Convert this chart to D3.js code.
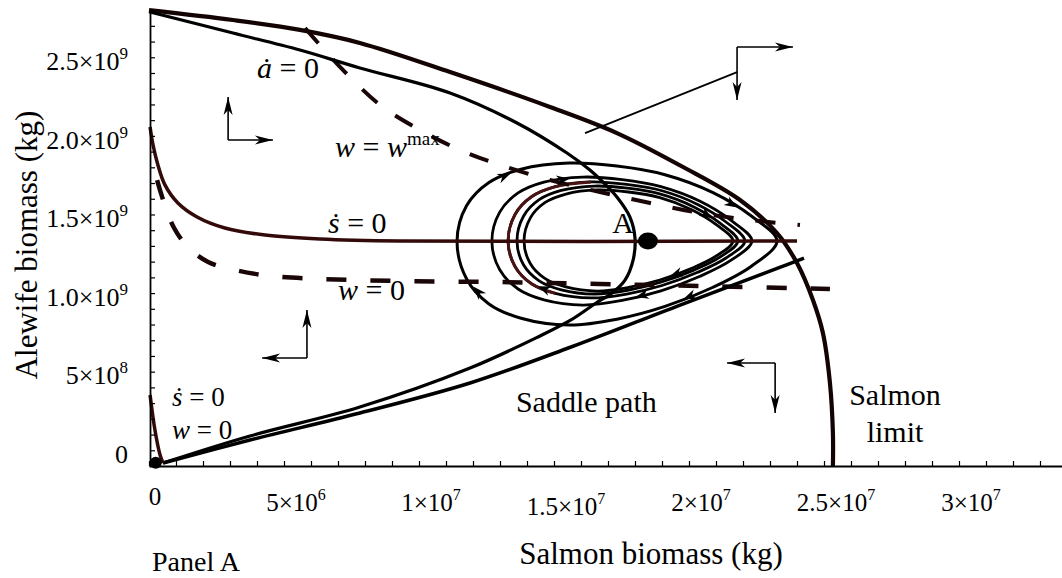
<!DOCTYPE html>
<html>
<head>
<meta charset="utf-8">
<script src="https://cdn.jsdelivr.net/npm/d3@7"></script>
<style>
  body { margin: 0; background: #fff; }
  svg { display: block; }
</style>
</head>
<body>
<div id="vis"></div>
<script>
// salmon values in 1e6 kg, alewife values in 1e9 kg
var salmonTicks = [0, 5e6, 1e7, 1.5e7, 2e7, 2.5e7, 3e7];
var salmonTickLabels = [['0', ''], ['5×10', '6'], ['1×10', '7'], ['1.5×10', '7'], ['2×10', '7'], ['2.5×10', '7'], ['3×10', '7']];
var alewifeTicks = [0, 5e8, 1e9, 1.5e9, 2e9, 2.5e9];
var alewifeTickLabels = [['0', ''], ['5×10', '8'], ['1.0×10', '9'], ['1.5×10', '9'], ['2.0×10', '9'], ['2.5×10', '9']];

var salmonLimit = [[0, 2.90], [3.11, 2.837], [5.59, 2.774], [7.81, 2.691], [11.15, 2.506], [14.85, 2.284],
    [17.33, 2.118], [19.78, 1.902], [21.89, 1.692], [23.26, 1.482], [24.0, 1.291], [24.59, 1.056],
    [24.96, 0.846], [25.22, 0.528], [25.33, 0.210], [25.33, 0]];

var aDotZero = [[0, 2.89], [3.11, 2.754], [5.59, 2.646], [7.81, 2.532], [11.15, 2.373], [13.63, 2.182],
    [15.48, 1.991], [16.33, 1.883], [16.81, 1.807], [17.33, 1.711], [17.81, 1.584], [18.0, 1.450],
    [17.93, 1.310], [17.63, 1.183], [17.15, 1.101], [16.56, 1.037], [15.63, 0.929], [14.48, 0.827],
    [11.89, 0.623], [7.81, 0.375], [3.74, 0.191], [0.52, 0.019]];

var saddleLower = [[0.52, 0.019], [3.74, 0.165], [7.81, 0.337], [11.89, 0.528], [15.63, 0.757],
    [19.67, 1.024], [23.41, 1.266], [24.26, 1.323]];

var sDotZero = [[0.04, 2.157], [0.15, 2.042], [0.33, 1.915], [0.59, 1.788], [1.07, 1.673], [1.78, 1.584],
    [2.81, 1.514], [4.30, 1.469], [6.33, 1.444], [9.30, 1.431], [24.0, 1.431]];
var sDotZeroOrigin = [[0.04, 0.452], [0.22, 0.229], [0.41, 0.070], [0.52, 0.019]];

var wMax = [[5.78, 2.786], [6.33, 2.678], [7.26, 2.506], [8.56, 2.296], [10.04, 2.137], [11.52, 2.010],
    [13.0, 1.915], [14.85, 1.819], [16.70, 1.743], [18.56, 1.673], [20.41, 1.609], [22.26, 1.565], [24.11, 1.533]];

var wZero = [[0.30, 1.819], [0.56, 1.673], [0.93, 1.514], [1.44, 1.393], [2.19, 1.298], [3.19, 1.247],
    [4.48, 1.209], [6.33, 1.190], [9.30, 1.177], [13.0, 1.170], [16.70, 1.158], [20.41, 1.145], [25.22, 1.126]];

var orbits = [
    [[11.41, 1.431], [11.76, 1.655], [12.59, 1.803], [13.78, 1.888], [15.56, 1.927], [17.33, 1.908], [19.11, 1.853],
     [20.89, 1.739], [22.31, 1.590], [23.26, 1.431], [22.31, 1.271], [20.89, 1.137], [19.11, 1.015], [17.33, 0.934],
     [15.56, 0.897], [13.78, 0.940], [12.59, 1.031], [11.76, 1.191]],
    [[12.70, 1.431], [12.99, 1.615], [13.67, 1.737], [14.63, 1.806], [16.07, 1.838], [17.52, 1.822], [18.96, 1.777],
     [20.41, 1.684], [21.56, 1.562], [22.33, 1.431], [21.56, 1.309], [20.41, 1.207], [18.96, 1.114], [17.52, 1.053],
     [16.07, 1.024], [14.63, 1.057], [13.67, 1.126], [12.99, 1.248]],
    [[13.30, 1.431], [13.56, 1.601], [14.17, 1.713], [15.05, 1.777], [16.37, 1.807], [17.69, 1.791], [19.00, 1.751],
     [20.32, 1.664], [21.37, 1.552], [22.07, 1.431], [21.37, 1.323], [20.32, 1.232], [19.00, 1.148], [17.69, 1.094],
     [16.37, 1.069], [15.05, 1.098], [14.17, 1.159], [13.56, 1.268]],
    [[13.63, 1.431], [13.87, 1.589], [14.45, 1.694], [15.27, 1.753], [16.50, 1.781], [17.72, 1.767], [18.95, 1.729],
     [20.18, 1.648], [21.16, 1.543], [21.81, 1.431], [21.16, 1.330], [20.18, 1.246], [18.95, 1.169], [17.72, 1.118],
     [16.50, 1.094], [15.27, 1.121], [14.45, 1.178], [13.87, 1.280]],
    [[13.89, 1.431], [14.12, 1.577], [14.66, 1.675], [15.44, 1.730], [16.60, 1.756], [17.76, 1.743], [18.92, 1.707],
     [20.08, 1.632], [21.01, 1.535], [21.63, 1.431], [21.01, 1.336], [20.08, 1.256], [18.92, 1.183], [17.76, 1.136],
     [16.60, 1.113], [15.44, 1.139], [14.66, 1.193], [14.12, 1.288]]
];
// arrowheads on orbits: [orbit, segment]
var orbitArrows = [[0, 2], [0, 7], [0, 11], [0, 16], [1, 3], [1, 12], [2, 15], [3, 7], [4, 11]];

var equilibrium = [18.48, 1.431];
var origin = [0.25, 0.02];

// phase direction glyphs: corner and arrow tips
var phaseArrows = [
    { corner: [2.93, 2.074], tips: [[2.93, 2.347], [4.59, 2.074]] },
    { corner: [21.78, 2.665], tips: [[21.78, 2.328], [23.85, 2.665]] },
    { corner: [5.85, 0.687], tips: [[5.85, 0.992], [4.19, 0.687]] },
    { corner: [23.19, 0.655], tips: [[21.41, 0.655], [23.19, 0.337]] }
];
var pointer = [[16.15, 2.118], [21.78, 2.506]];

var width = 1062, height = 578;
var S = 1e6, A = 1e9;

var x = d3.scaleLinear().domain([0, 2.5e7]).range([149, 824]);
var y = d3.scaleLinear().domain([0, 2.5e9]).range([466, 73]);

var svg = d3.select('#vis').append('svg')
    .attr('width', width)
    .attr('height', height)
    .attr('font-family', '"Liberation Serif", "Times New Roman", "DejaVu Serif", serif');

svg.append('rect').attr('width', width).attr('height', height).attr('fill', '#fff');

var line = d3.line()
    .x(d => x(d[0] * S))
    .y(d => y(d[1] * A))
    .curve(d3.curveCatmullRom.alpha(0.5));
var loop = d3.line()
    .x(d => x(d[0] * S))
    .y(d => y(d[1] * A))
    .curve(d3.curveCatmullRomClosed.alpha(0.5));

var plot = svg.append('g');

// orbits round A
orbits.forEach((o, i) => {
    plot.append('path')
        .attr('d', loop(o))
        .attr('fill', 'none')
        .attr('stroke', '#000')
        .attr('stroke-width', i == 0 ? 3 : 2.8);
});
var o3 = orbits[2];
plot.append('path')
    .attr('d', line([o3[15], o3[16], o3[17], o3[0], o3[1], o3[2], o3[3], o3[4]]))
    .attr('fill', 'none')
    .attr('stroke', '#4a1414')
    .attr('stroke-width', 3);

// dashed isoclines
plot.append('path')
    .attr('d', line(wMax))
    .attr('fill', 'none')
    .attr('stroke', '#1a0606')
    .attr('stroke-width', 4)
    .attr('stroke-dasharray', '20,22');
plot.append('path')
    .attr('d', line(wZero))
    .attr('fill', 'none')
    .attr('stroke', '#1a0606')
    .attr('stroke-width', 4.5)
    .attr('stroke-dasharray', '20,24');

// solid curves
plot.append('path')
    .attr('d', line(salmonLimit))
    .attr('fill', 'none')
    .attr('stroke', '#140303')
    .attr('stroke-width', 4.2);
plot.append('path')
    .attr('d', line(aDotZero))
    .attr('fill', 'none')
    .attr('stroke', '#000')
    .attr('stroke-width', 3.2);
plot.append('path')
    .attr('d', line(saddleLower))
    .attr('fill', 'none')
    .attr('stroke', '#000')
    .attr('stroke-width', 3.5);
plot.append('path')
    .attr('d', line(sDotZero))
    .attr('fill', 'none')
    .attr('stroke', '#330a0a')
    .attr('stroke-width', 3.5);
plot.append('path')
    .attr('d', line(sDotZeroOrigin))
    .attr('fill', 'none')
    .attr('stroke', '#330a0a')
    .attr('stroke-width', 3.5);

// arrowheads along the orbits
orbitArrows.forEach(([k, i]) => {
    var o = orbits[k];
    var p0 = o[i], p1 = o[(i + 1) % o.length];
    var x0 = x(p0[0] * S), y0 = y(p0[1] * A), x1 = x(p1[0] * S), y1 = y(p1[1] * A);
    var ang = Math.atan2(y1 - y0, x1 - x0);
    plot.append('path')
        .attr('d', 'M0,0L-13,-5L-9,0L-13,5Z')
        .attr('transform', 'translate(' + ((x0 + x1) / 2 + 6 * Math.cos(ang)) + ',' + ((y0 + y1) / 2 + 6 * Math.sin(ang)) + ') rotate(' + (ang * 180 / Math.PI) + ')')
        .attr('fill', '#000');
});

// equilibrium A and origin
plot.append('ellipse')
    .attr('cx', x(equilibrium[0] * S))
    .attr('cy', y(equilibrium[1] * A))
    .attr('rx', 10).attr('ry', 8.5)
    .attr('fill', '#000');
plot.append('circle')
    .attr('cx', x(origin[0] * S))
    .attr('cy', y(origin[1] * A))
    .attr('r', 6)
    .attr('fill', '#000');

// direction glyphs
function arrowTo(g, from, to) {
    var x0 = x(from[0] * S), y0 = y(from[1] * A), x1 = x(to[0] * S), y1 = y(to[1] * A);
    var ang = Math.atan2(y1 - y0, x1 - x0) * 180 / Math.PI;
    g.append('line')
        .attr('x1', x0).attr('y1', y0).attr('x2', x1).attr('y2', y1)
        .attr('stroke', '#000').attr('stroke-width', 1.6);
    g.append('path')
        .attr('d', 'M0,0L-18,-4.5L-13,0L-18,4.5Z')
        .attr('transform', 'translate(' + x1 + ',' + y1 + ') rotate(' + ang + ')')
        .attr('fill', '#000');
}
var glyphs = svg.append('g');
phaseArrows.forEach(p => p.tips.forEach(t => arrowTo(glyphs, p.corner, t)));
glyphs.append('line')
    .attr('x1', x(pointer[0][0] * S)).attr('y1', y(pointer[0][1] * A))
    .attr('x2', x(pointer[1][0] * S)).attr('y2', y(pointer[1][1] * A))
    .attr('stroke', '#000').attr('stroke-width', 1.8);

// axes
var xAxisScale = d3.scaleLinear().domain([0, x.invert(width)]).range([149, width]);
var yAxisScale = d3.scaleLinear().domain([0, y.invert(10)]).range([466, 10]);

svg.append('g')
    .attr('transform', 'translate(0,466)')
    .call(d3.axisBottom(xAxisScale)
        .tickValues(d3.range(0, 34).map(i => i * 1e6))
        .tickSizeInner(-5).tickSizeOuter(0)
        .tickFormat(''))
    .call(g => g.select('.domain').attr('stroke-width', 2.2))
    .call(g => g.selectAll('.tick line').attr('stroke-width', 1.2));

svg.append('g')
    .attr('transform', 'translate(150,0)')
    .call(d3.axisLeft(yAxisScale)
        .tickValues(d3.range(0, 30).map(i => i * 1e8))
        .tickSizeInner(-5).tickSizeOuter(0)
        .tickFormat(''))
    .call(g => g.select('.domain').attr('stroke-width', 1.8))
    .call(g => g.selectAll('.tick line').attr('stroke-width', 1.2));

// tick labels with superscript exponents
function sciLabel(t, parts, supSize, supDy) {
    t.append('tspan').text(parts[0]);
    if (parts[1]) t.append('tspan').attr('font-size', supSize).attr('dy', supDy).text(parts[1]);
}
salmonTicks.forEach((v, i) => {
    var t = svg.append('text')
        .attr('x', x(v) + (v ? 12 : 6))
        .attr('y', v == 0 ? 505 : (v == 1.5e7 ? 515 : 511))
        .attr('text-anchor', 'middle')
        .attr('font-size', 25);
    sciLabel(t, salmonTickLabels[i], 16, -11);
});
alewifeTicks.forEach((v, i) => {
    var t = svg.append('text')
        .attr('x', 128)
        .attr('y', y(v) - 3)
        .attr('text-anchor', 'end')
        .attr('font-size', 26);
    sciLabel(t, alewifeTickLabels[i], 17, -11);
});

// axis titles
svg.append('text')
    .attr('x', 651).attr('y', 564)
    .attr('text-anchor', 'middle')
    .attr('font-size', 31)
    .text('Salmon biomass (kg)');
svg.append('text')
    .attr('transform', 'translate(37,245) rotate(-90)')
    .attr('text-anchor', 'middle')
    .attr('font-size', 31)
    .text('Alewife biomass (kg)');
svg.append('text')
    .attr('x', 152).attr('y', 571)
    .attr('font-size', 28)
    .text('Panel A');

// annotations: [salmon, alewife, anchor, size, pieces]  pieces: [text, italic, sup]
var notes = [
    [4.0, 2.468, 'start', 30, [['ȧ', 1], [' = 0', 0]]],
    [6.89, 1.966, 'start', 30, [['w', 1], [' = ', 0], ['w', 1], ['max', 0, 1]]],
    [6.63, 1.482, 'start', 30, [['ṡ', 1], [' = 0', 0]]],
    [7.0, 1.056, 'start', 30, [['w', 1], [' = 0', 0]]],
    [17.56, 1.482, 'middle', 30, [['A', 0]]],
    [0.85, 0.382, 'start', 27, [['ṡ', 1], [' = 0', 0]]],
    [0.85, 0.172, 'start', 27, [['w', 1], [' = 0', 0]]],
    [13.59, 0.344, 'start', 30, [['Saddle path', 0]]],
    [27.63, 0.388, 'middle', 30, [['Salmon', 0]]],
    [27.63, 0.153, 'middle', 30, [['limit', 0]]]
];
notes.forEach(n => {
    var t = svg.append('text')
        .attr('x', x(n[0] * S))
        .attr('y', y(n[1] * A))
        .attr('text-anchor', n[2])
        .attr('font-size', n[3]);
    n[4].forEach(p => {
        var s = t.append('tspan').text(p[0]);
        if (p[1]) s.attr('font-style', 'italic');
        if (p[2]) s.attr('font-size', 19).attr('dy', -12);
    });
});
</script>
</body>
</html>
